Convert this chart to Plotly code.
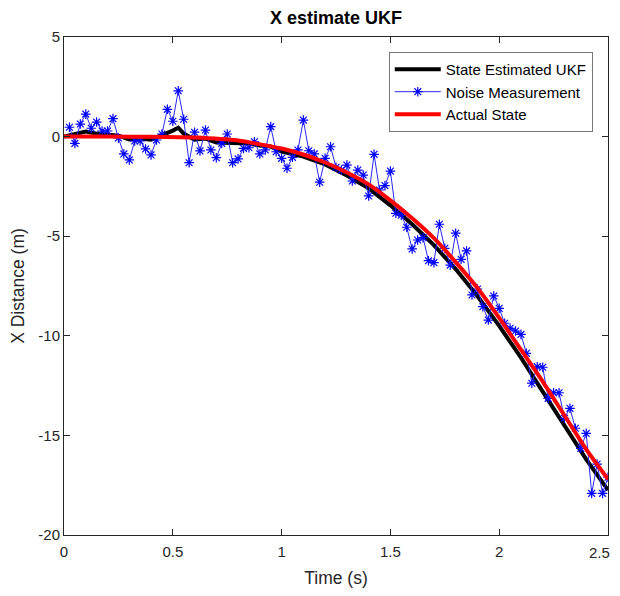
import plotly.graph_objects as go

# Noise measurement (t = 0.025 .. 2.5)
noise_t = [round(0.025 * k, 3) for k in range(1, 101)]
noise_x = [0.47, -0.34, 0.63, 1.13, 0.42, 0.73, 0.28, 0.28, 0.90, -0.07,
           -0.87, -1.17, -0.22, -0.22, -0.62, -0.92, -0.17, 0.13, 1.37, 0.77,
           2.30, 0.87, -1.31, 0.22, -0.72, 0.33, -0.67, -1.06, -0.34, 0.13,
           -1.31, -1.12, -0.59, -0.56, -0.26, -0.87, -0.67, 0.50, -0.76, -1.09,
           -1.59, -1.04, -0.67, 0.83, -0.71, -0.87, -2.29, -1.09, -0.51, -1.54,
           -1.68, -1.43, -2.23, -1.68, -1.93, -2.98, -0.89, -2.68, -2.46, -1.73,
           -3.85, -3.95, -4.55, -5.64, -5.19, -5.07, -6.23, -6.33, -4.40, -5.61,
           -6.45, -4.85, -6.16, -5.74, -7.95, -7.65, -8.54, -9.21, -8.00, -8.62,
           -9.37, -9.62, -9.76, -9.93, -10.88, -12.38, -11.55, -11.58, -13.14, -12.86,
           -12.86, -14.14, -13.64, -14.64, -15.65, -14.90, -17.91, -16.44, -17.91, -17.10]

# UKF state estimate
est_t = [0, 0.05, 0.1, 0.15, 0.2, 0.25, 0.3, 0.35, 0.4, 0.45, 0.5, 0.525, 0.55, 0.6,
         0.65, 0.7, 0.75, 0.8, 0.85, 0.9, 0.95, 1.0, 1.05, 1.1, 1.2, 1.3, 1.4, 1.5,
         1.6, 1.7, 1.8, 1.9, 2.0, 2.1, 2.2, 2.3, 2.4, 2.5]
est_x = [0, 0.15, 0.25, 0.15, 0.1, 0.05, -0.15, -0.1, -0.15, 0.05, 0.3, 0.45, 0.15, -0.15,
         -0.1, -0.3, -0.3, -0.35, -0.35, -0.45, -0.5, -0.75, -0.85, -1.0, -1.4, -1.95, -2.6, -3.45,
         -4.4, -5.45, -6.65, -8.0, -9.5, -11.1, -12.8, -14.5, -16.2, -17.75]

# Actual state
act_t = [0, 0.2, 0.4, 0.6, 0.8, 1.0, 1.1, 1.2, 1.3, 1.4, 1.5, 1.6, 1.7, 1.8, 1.9,
         2.0, 2.1, 2.2, 2.3, 2.4, 2.5]
act_x = [0, 0, -0.01, -0.05, -0.2, -0.6, -0.9, -1.3, -1.8, -2.4, -3.2, -4.1, -5.1, -6.3, -7.6,
         -9.1, -10.7, -12.3, -14.0, -15.7, -17.2]

x_ticks = [0, 0.5, 1, 1.5, 2, 2.5]
x_tick_labels = ["0", "0.5", "1", "1.5", "2", "2.5"]
y_ticks = [-20, -15, -10, -5, 0, 5]
y_tick_labels = ["-20", "-15", "-10", "-5", "0", "5"]

FONT = "Liberation Sans, Arial, sans-serif"

W, H = 604, 580

fig = go.Figure()
fig.add_trace(go.Scatter(x=est_t, y=est_x, mode="lines", name="State Estimated UKF",
                         line=dict(color="black", width=4)))
fig.add_trace(go.Scatter(x=noise_t, y=noise_x, mode="lines+markers", name="Noise Measurement",
                         line=dict(color="rgb(40,40,255)", width=1),
                         marker=dict(symbol="asterisk-open", size=8,
                                     line=dict(color="blue", width=1.2), color="blue")))
fig.add_trace(go.Scatter(x=act_t, y=act_x, mode="lines", name="Actual State",
                         line=dict(color="red", width=4, shape="spline", smoothing=0.6)))

axis_common = dict(showgrid=False, zeroline=False, showline=True, linecolor="#262626",
                   linewidth=1, mirror="ticks", ticks="inside", ticklen=6, automargin=False,
                   tickcolor="#262626", tickfont=dict(family=FONT, size=15, color="#262626"))

# last x tick label is drawn as an annotation so it can sit inside the visible page edge
x_text_shown = x_tick_labels[:-1] + [""]

fig.update_xaxes(range=[0, 2.5], tickvals=x_ticks, ticktext=x_text_shown,
                 ticklabelstandoff=3,
                 title=dict(text="Time (s)", font=dict(family=FONT, size=17.5, color="#262626"),
                            standoff=13),
                 **axis_common)
fig.update_yaxes(range=[-20, 5], tickvals=y_ticks, ticktext=y_tick_labels,
                 title=dict(text="X Distance (m)", font=dict(family=FONT, size=17.5, color="#262626"),
                            standoff=9),
                 **axis_common)

fig.add_annotation(x=x_ticks[-1], xref="x", y=0, yref="paper", text=x_tick_labels[-1],
                   showarrow=False, xanchor="right", yanchor="top", xshift=4, yshift=-7,
                   font=dict(family=FONT, size=15, color="#262626"))

fig.update_layout(
    width=W, height=H,
    margin=dict(l=56, r=4, t=29, b=53, autoexpand=False),
    paper_bgcolor="white", plot_bgcolor="white",
    title=dict(text="<b>X estimate UKF</b>", x=(56 + 272) / W, xanchor="center",
               y=1 - 10 / H, yanchor="middle",
               font=dict(family=FONT, size=18, color="black")),
    legend=dict(x=0.597, y=0.970, xanchor="left", yanchor="top",
                bgcolor="white", bordercolor="#777777", borderwidth=1,
                font=dict(family=FONT, size=15, color="black"),
                itemwidth=46, tracegroupgap=0),
    showlegend=True,
)

fig.write_html("out.html")
